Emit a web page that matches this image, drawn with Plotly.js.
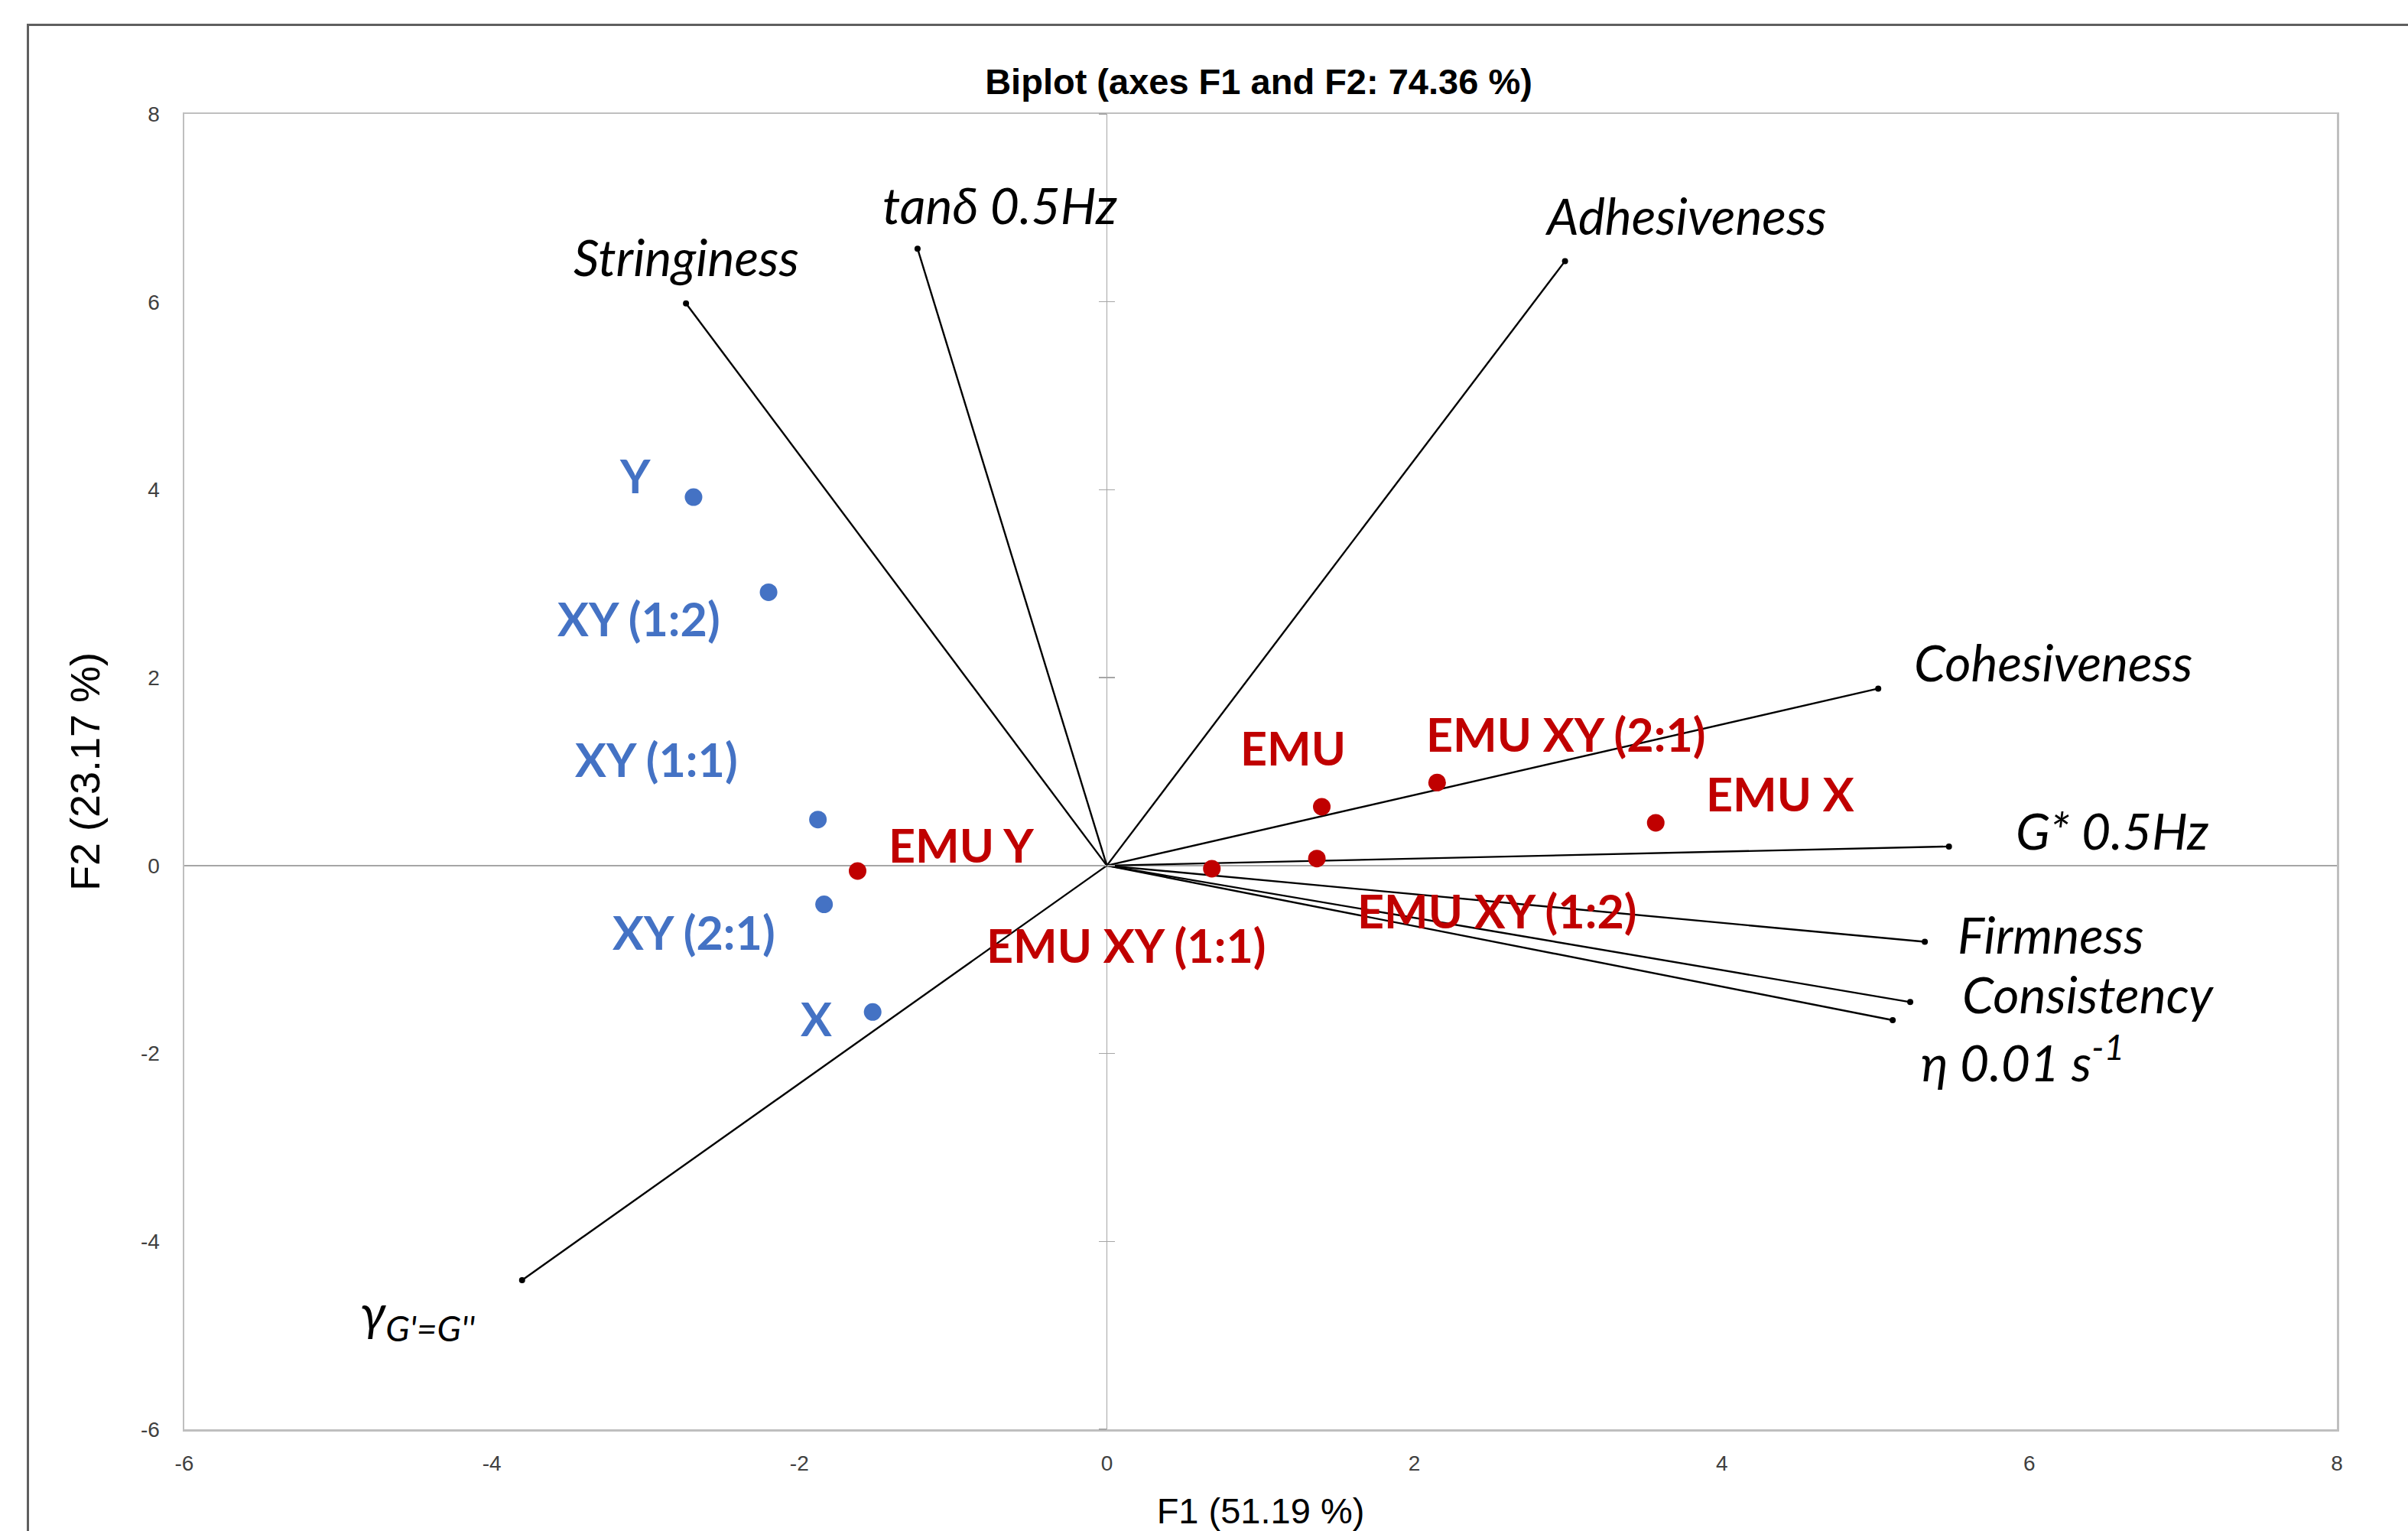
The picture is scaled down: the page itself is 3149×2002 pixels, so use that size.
<!DOCTYPE html>
<html>
<head>
<meta charset="utf-8">
<script src="https://cdn.plot.ly/plotly-3.0.1.min.js"></script>
<style>
  html, body { margin: 0; padding: 0; background: #ffffff; overflow: hidden; }
  #chart { width: 3149px; height: 2002px; position: absolute; left: 0; top: 0; }
  #frame { position: absolute; left: 35px; top: 31px; width: 4000px; height: 4000px;
           border-left: 3px solid #5f5f5f; border-top: 3px solid #5f5f5f; pointer-events: none; }
</style>
</head>
<body>
<div id="chart"></div>
<div id="frame"></div>
<script>
// ---- Data ----
const varNames = ['Stringiness', 'tanδ 0.5Hz', 'Adhesiveness', 'Cohesiveness', 'G* 0.5Hz',
                  'Firmness', 'Consistency', 'η 0.01 s<sup>-1</sup>', 'γ<sub>G\'=G\'\'</sub>'];
const varF1 = [-2.737, -1.231, 2.980, 5.017, 5.477, 5.320, 5.225, 5.111, -3.803];
const varF2 = [5.984, 6.566, 6.434, 1.884, 0.203, -0.811, -1.453, -1.645, -4.412];

const obsNames = ['Y', 'XY (1:2)', 'XY (1:1)', 'XY (2:1)', 'X'];
const obsF1 = [-2.688, -2.200, -1.879, -1.839, -1.523];
const obsF2 = [3.922, 2.909, 0.490, -0.413, -1.558];

const emuNames = ['EMU Y', 'EMU XY (1:1)', 'EMU XY (1:2)', 'EMU', 'EMU XY (2:1)', 'EMU X'];
const emuF1 = [-1.621, 0.683, 1.366, 1.398, 2.148, 3.570];
const emuF2 = [-0.058, -0.033, 0.075, 0.626, 0.884, 0.455];

const tickVals = [-6, -4, -2, 0, 2, 4, 6, 8];
const tickText = ['-6', '-4', '-2', '0', '2', '4', '6', '8'];

// ---- Label placement (pixel offsets from each point: [dx, dy], dy downward) ----
const varLabelOffset = [[0, -61], [108, -58], [158, -60], [229, -35], [213, -21],
                        [165, -10], [232, -11], [170, 50], [-137, 46]];
const obsLabelOffset = [[-76, -29], [-170, 34], [-211, -79], [-170, 36], [-74, 8]];
const emuLabelOffset = [[136, -34], [-112, 100], [236, 68], [-38, -77], [169, -64], [163, -38]];

// ---- Styles ----
const BLUE = '#4472C4';
const RED = '#C00000';
const LABEL_FONT = 'Lato, "Open Sans", "DejaVu Sans", sans-serif';
const AXIS_FONT = '"Liberation Sans", Arial, sans-serif';

// vector lines from origin
const vx = [], vy = [];
for (let i = 0; i < varF1.length; i++) { vx.push(0, varF1[i], null); vy.push(0, varF2[i], null); }

const traces = [
  { x: vx, y: vy, mode: 'lines', type: 'scatter', line: { color: '#000000', width: 2.4 },
    hoverinfo: 'skip', showlegend: false, cliponaxis: false },
  { x: varF1, y: varF2, mode: 'markers', type: 'scatter', marker: { color: '#000000', size: 8 },
    text: varNames, hoverinfo: 'text', showlegend: false, cliponaxis: false },
  { x: obsF1, y: obsF2, mode: 'markers', type: 'scatter', marker: { color: BLUE, size: 23 },
    text: obsNames, hoverinfo: 'text', showlegend: false },
  { x: emuF1, y: emuF2, mode: 'markers', type: 'scatter', marker: { color: RED, size: 23 },
    text: emuNames, hoverinfo: 'text', showlegend: false },
  // empty traces to host the crossing tick-mark axes at x = 0
  { x: [], y: [], xaxis: 'x', yaxis: 'y2', type: 'scatter', mode: 'markers', showlegend: false, hoverinfo: 'skip' },
  { x: [], y: [], xaxis: 'x', yaxis: 'y3', type: 'scatter', mode: 'markers', showlegend: false, hoverinfo: 'skip' }
];

const annotations = [];
function addLabels(names, xs, ys, offs, color, bold, italic, size) {
  for (let i = 0; i < names.length; i++) {
    annotations.push({
      x: xs[i], y: ys[i], xref: 'x', yref: 'y', text: names[i], showarrow: false,
      xshift: offs[i][0], yshift: -offs[i][1], xanchor: 'center', yanchor: 'middle',
      font: { family: LABEL_FONT, size: size, color: color,
              weight: bold ? 'bold' : 'normal', style: italic ? 'italic' : 'normal' }
    });
  }
}
addLabels(varNames, varF1, varF2, varLabelOffset, '#000000', false, true, 66);
addLabels(obsNames, obsF1, obsF2, obsLabelOffset, BLUE, true, false, 61);
addLabels(emuNames, emuF1, emuF2, emuLabelOffset, RED, true, false, 61);

const zeroPos = 6 / 14;
function crossAxis(extra) {
  return Object.assign({
    range: [-6, 8], anchor: 'free', position: zeroPos, tickmode: 'array', tickvals: tickVals,
    ticklen: 10, tickwidth: 1.5, tickcolor: '#A6A6A6', showticklabels: false,
    showgrid: false, zeroline: false, showline: false, fixedrange: true
  }, extra);
}

const layout = {
  width: 3149, height: 2002,
  margin: { l: 241, r: 93, t: 149, b: 133, pad: 0 },
  paper_bgcolor: 'rgba(0,0,0,0)', plot_bgcolor: '#ffffff',
  showlegend: false,
  title: {
    text: 'Biplot (axes F1 and F2: 74.36 %)',
    font: { family: AXIS_FONT, size: 47, color: '#000000', weight: 'bold' },
    x: 1646 / 3149, xanchor: 'center', y: 1 - 107 / 2002, yanchor: 'middle'
  },
  xaxis: {
    range: [-6, 8], tickmode: 'array', tickvals: tickVals, ticktext: tickText,
    showgrid: false, zeroline: true, zerolinecolor: '#A6A6A6', zerolinewidth: 1.5,
    showline: true, mirror: true, linecolor: '#BFBFBF', linewidth: 2.5,
    ticks: '', ticklabelstandoff: 18,
    tickfont: { family: AXIS_FONT, size: 28, color: '#404040' },
    title: { text: 'F1 (51.19 %)', font: { family: AXIS_FONT, size: 47, color: '#000000' }, standoff: 40 },
    fixedrange: true
  },
  yaxis: {
    range: [-6, 8], tickmode: 'array', tickvals: tickVals, ticktext: tickText,
    showgrid: false, zeroline: true, zerolinecolor: '#A6A6A6', zerolinewidth: 1.5,
    showline: true, mirror: true, linecolor: '#BFBFBF', linewidth: 2.5,
    ticks: '', ticklabelstandoff: 24,
    tickfont: { family: AXIS_FONT, size: 28, color: '#404040' },
    title: { text: 'F2 (23.17 %)', font: { family: AXIS_FONT, size: 54, color: '#000000' }, standoff: 36 },
    fixedrange: true
  },
  yaxis2: crossAxis({ overlaying: 'y', side: 'left', ticks: 'outside' }),
  yaxis3: crossAxis({ overlaying: 'y', side: 'left', ticks: 'inside' }),
  annotations: annotations
};

Plotly.newPlot('chart', traces, layout, { staticPlot: true, displayModeBar: false });
</script>
</body>
</html>
